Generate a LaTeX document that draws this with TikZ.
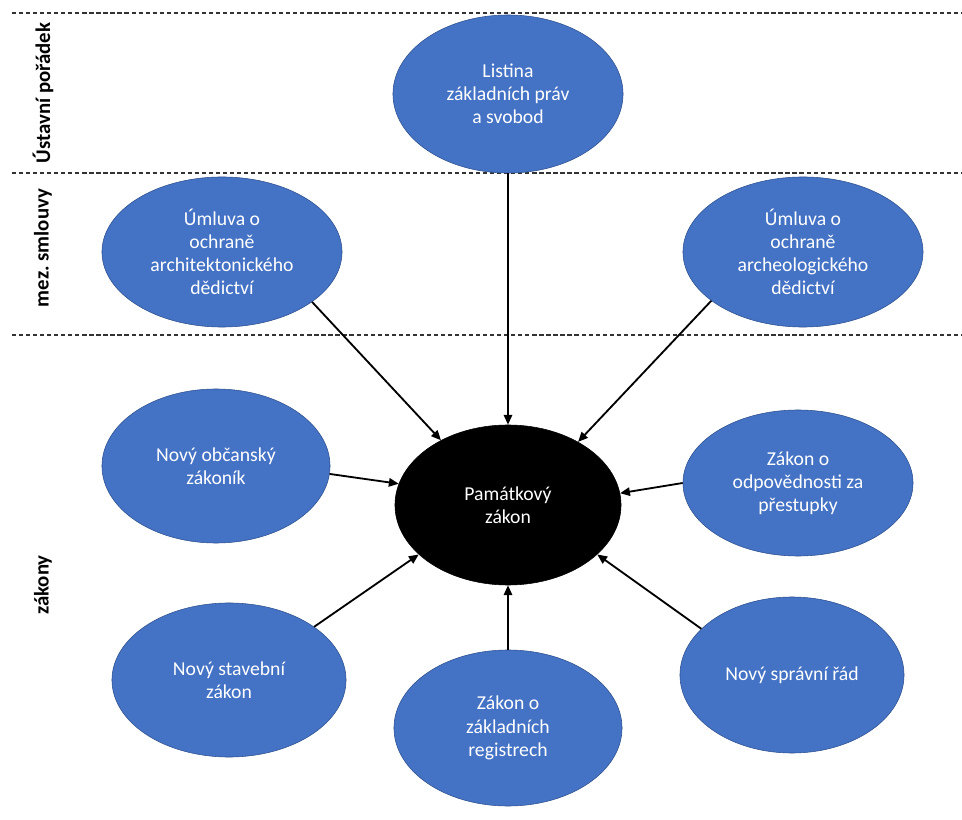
\documentclass[tikz,border=0pt]{standalone}
\usepackage{fontspec}
\setmainfont{Carlito}
\usepackage{tikz}
\usetikzlibrary{positioning,shapes.geometric,arrows.meta}
\definecolor{OfficeBlue}{HTML}{4472C4}
\definecolor{OfficeLine}{HTML}{2F528F}
\frenchspacing

\begin{document}
\begin{tikzpicture}[x=0.025cm, y=-0.025cm, ->,
    >={Triangle[length=7pt,width=6pt]}, line width=1.3pt,
    law/.style={ellipse, draw=OfficeLine, line width=0.4pt, fill=OfficeBlue,
        text=white, align=center, inner sep=0pt,
        font=\fontsize{14}{16.5}\selectfont},
    level/.style={rotate=90, font=\bfseries\fontsize{14.8}{16}\selectfont},
    divider/.style={-, dash pattern=on 3pt off 2pt, line width=0.9pt, black!80}]
    \useasboundingbox (0,0) rectangle (962,820);

    % levels
    \draw[divider] (12,13) -- (962,13);
    \draw[divider] (12,173) -- (962,173);
    \draw[divider] (12,335) -- (962,335);
    \node[level] (ustava) at (43,93) {Ústavní pořádek};
    \node[level] (smlouvy) at (43,248) {mez. smlouvy};
    \node[level] (zakony) at (43,585) {zákony};

    % sources
    \node[law, minimum width=5.75cm, minimum height=3.95cm] (listina) at (508,94)
        {Listina\\základních práv\\a svobod};
    \node[law, minimum width=6cm, minimum height=3.75cm] (archit) at (222,252)
        {Úmluva o\\ochraně\\architektonického\\dědictví};
    \node[law, minimum width=6cm, minimum height=3.75cm] (archeo) at (803,252)
        {Úmluva o\\ochraně\\archeologického\\dědictví};
    \node[law, minimum width=5.7cm, minimum height=3.85cm] (obcansky) at (216,466)
        {Nový občanský\\zákoník};
    \node[law, minimum width=5.75cm, minimum height=3.65cm] (prestupky) at (798,483)
        {Zákon o\\odpovědnosti za\\přestupky};
    \node[law, minimum width=5.85cm, minimum height=3.85cm] (stavebni) at (229,680)
        {Nový stavební\\zákon};
    \node[law, minimum width=5.7cm, minimum height=3.9cm] (registry) at (508,728)
        {Zákon o\\základních\\registrech};
    \node[law, minimum width=5.6cm, minimum height=3.9cm] (spravni) at (792,675)
        {Nový správní řád};

    \node[law, fill=black, draw=black, minimum width=5.65cm, minimum height=4cm]
        (pamatky) at (508,505) {Památkový\\zákon};

    \draw (listina.south) -- (pamatky.north);
    \draw (archit.-29) -- (pamatky.136);
    \draw (archeo.208) -- (pamatky.42);
    \draw (obcansky.-4) -- (pamatky.169);
    \draw (prestupky.180) -- (pamatky.6);
    \draw (stavebni.32) -- (pamatky.209);
    \draw (registry.north) -- (pamatky.south);
    \draw (spravni.153) -- (pamatky.331);
\end{tikzpicture}
\end{document}
